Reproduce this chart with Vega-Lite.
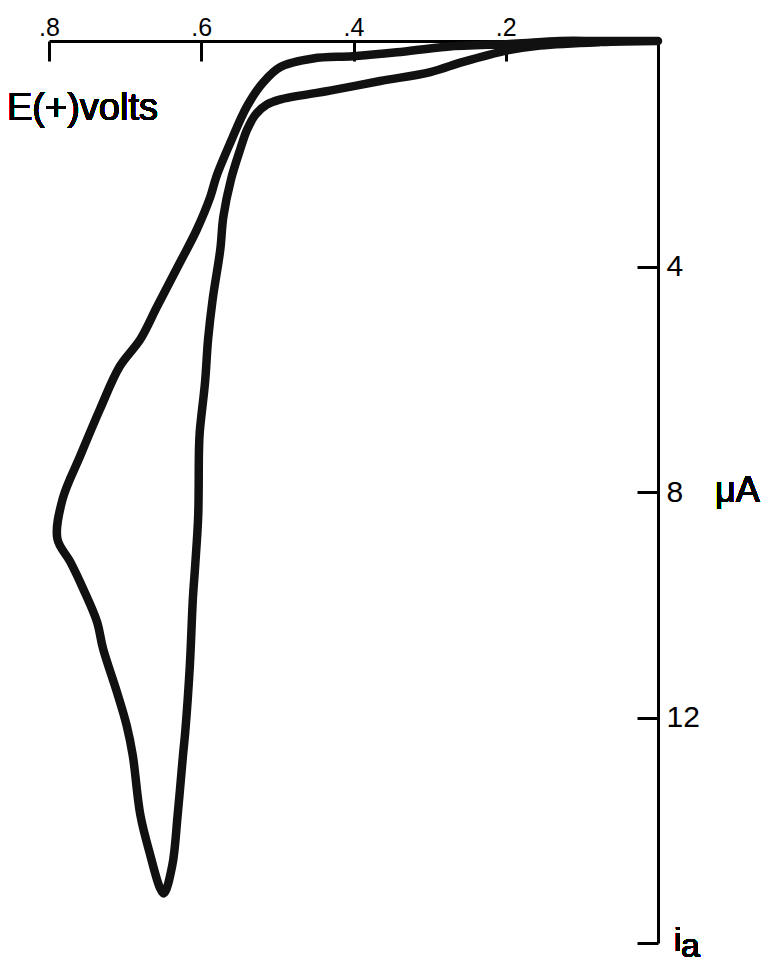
{
  "$schema": "https://vega.github.io/schema/vega-lite/v6.json",
  "width": 609,
  "height": 902,
  "autosize": {"type": "none"},
  "padding": {"left": 49, "top": 41, "right": 114, "bottom": 22},
  "background": "white",
  "config": {"view": {"stroke": null}, "font": "Liberation Sans"},
  "data": {
    "values": [
      {"k": 1, "E": 0.0, "I": 0.0},
      {"k": 2, "E": 0.076, "I": 0.0},
      {"k": 3, "E": 0.129, "I": 0.0},
      {"k": 4, "E": 0.19, "I": 0.05},
      {"k": 5, "E": 0.277, "I": 0.1},
      {"k": 6, "E": 0.343, "I": 0.2},
      {"k": 7, "E": 0.401, "I": 0.27},
      {"k": 8, "E": 0.453, "I": 0.31},
      {"k": 9, "E": 0.496, "I": 0.46},
      {"k": 10, "E": 0.519, "I": 0.74},
      {"k": 11, "E": 0.54, "I": 1.16},
      {"k": 12, "E": 0.562, "I": 1.81},
      {"k": 13, "E": 0.58, "I": 2.4},
      {"k": 14, "E": 0.588, "I": 2.76},
      {"k": 15, "E": 0.606, "I": 3.35},
      {"k": 16, "E": 0.628, "I": 3.93},
      {"k": 17, "E": 0.658, "I": 4.71},
      {"k": 18, "E": 0.68, "I": 5.29},
      {"k": 19, "E": 0.707, "I": 5.77},
      {"k": 20, "E": 0.733, "I": 6.53},
      {"k": 21, "E": 0.759, "I": 7.36},
      {"k": 22, "E": 0.782, "I": 8.12},
      {"k": 23, "E": 0.789, "I": 8.83},
      {"k": 24, "E": 0.772, "I": 9.24},
      {"k": 25, "E": 0.755, "I": 9.72},
      {"k": 26, "E": 0.737, "I": 10.3},
      {"k": 27, "E": 0.729, "I": 10.78},
      {"k": 28, "E": 0.711, "I": 11.54},
      {"k": 29, "E": 0.698, "I": 12.14},
      {"k": 30, "E": 0.69, "I": 12.67},
      {"k": 31, "E": 0.68, "I": 13.73},
      {"k": 32, "E": 0.667, "I": 14.44},
      {"k": 33, "E": 0.654, "I": 15.03},
      {"k": 34, "E": 0.649, "I": 15.12},
      {"k": 35, "E": 0.638, "I": 14.62},
      {"k": 36, "E": 0.631, "I": 13.73},
      {"k": 37, "E": 0.624, "I": 12.67},
      {"k": 38, "E": 0.621, "I": 12.25},
      {"k": 39, "E": 0.615, "I": 11.08},
      {"k": 40, "E": 0.611, "I": 9.89},
      {"k": 41, "E": 0.608, "I": 9.31},
      {"k": 42, "E": 0.604, "I": 8.42},
      {"k": 43, "E": 0.603, "I": 7.27},
      {"k": 44, "E": 0.602, "I": 6.94},
      {"k": 45, "E": 0.595, "I": 6.05},
      {"k": 46, "E": 0.591, "I": 5.29},
      {"k": 47, "E": 0.585, "I": 4.58},
      {"k": 48, "E": 0.575, "I": 3.7},
      {"k": 49, "E": 0.571, "I": 3.12},
      {"k": 50, "E": 0.561, "I": 2.46},
      {"k": 51, "E": 0.549, "I": 1.93},
      {"k": 52, "E": 0.54, "I": 1.58},
      {"k": 53, "E": 0.529, "I": 1.31},
      {"k": 54, "E": 0.514, "I": 1.13},
      {"k": 55, "E": 0.497, "I": 1.04},
      {"k": 56, "E": 0.431, "I": 0.88},
      {"k": 57, "E": 0.365, "I": 0.71},
      {"k": 58, "E": 0.299, "I": 0.55},
      {"k": 59, "E": 0.256, "I": 0.37},
      {"k": 60, "E": 0.199, "I": 0.17},
      {"k": 61, "E": 0.155, "I": 0.08},
      {"k": 62, "E": 0.076, "I": 0.02},
      {"k": 63, "E": 0.0, "I": 0.0}
    ]
  },
  "layer": [
    {
      "mark": {"type": "line", "color": "#111111", "strokeWidth": 8.5, "strokeJoin": "round", "strokeCap": "round", "interpolate": "catmull-rom"},
      "encoding": {
        "x": {
          "field": "E",
          "type": "quantitative",
          "scale": {"domain": [0, 0.8], "reverse": true, "nice": false, "zero": false},
          "axis": {
            "orient": "top",
            "values": [0.2, 0.4, 0.6, 0.8],
            "labelExpr": "replace(format(datum.value, '.1f'), '0.', '.')",
            "title": null,
            "grid": false,
            "domainColor": "black",
            "domainWidth": 3,
            "tickColor": "black",
            "tickWidth": 3,
            "tickSize": -20,
            "labelPadding": 21,
            "labelFontSize": 25,
            "labelFont": "Liberation Sans",
            "labelColor": "black",
            "labelFlush": false,
            "labelOverlap": false
          }
        },
        "y": {
          "field": "I",
          "type": "quantitative",
          "scale": {"domain": [0, 16], "reverse": true, "nice": false, "zero": false},
          "axis": {
            "orient": "right",
            "values": [4, 8, 12, 16],
            "format": "d",
            "labelExpr": "datum.value == 16 ? '' : datum.label",
            "title": null,
            "grid": false,
            "domainColor": "black",
            "domainWidth": 3,
            "tickColor": "black",
            "tickWidth": 3,
            "tickSize": -21,
            "labelPadding": 29,
            "labelFontSize": 30,
            "labelFont": "Liberation Sans",
            "labelColor": "black",
            "labelFlush": false,
            "labelOverlap": false
          }
        },
        "order": {"field": "k", "type": "quantitative"}
      }
    },
    {
      "mark": {"type": "text", "text": "E(+)volts", "align": "left", "baseline": "alphabetic", "fontSize": 38, "font": "Liberation Sans", "color": "black", "dx": -42},
      "encoding": {"x": {"datum": 0.8}, "y": {"datum": 1.4}}
    },
    {
      "mark": {"type": "text", "text": "μA", "align": "left", "baseline": "alphabetic", "fontSize": 36, "font": "Liberation Sans", "color": "black", "dx": 57, "dy": 10},
      "encoding": {"x": {"datum": 0}, "y": {"datum": 8}}
    },
    {
      "mark": {"type": "text", "text": "i", "align": "left", "baseline": "alphabetic", "fontSize": 34, "font": "Liberation Sans", "color": "black", "dx": 16, "dy": 8},
      "encoding": {"x": {"datum": 0}, "y": {"datum": 16}}
    },
    {
      "mark": {"type": "text", "text": "a", "align": "left", "baseline": "alphabetic", "fontSize": 34, "font": "Liberation Sans", "color": "black", "dx": 23, "dy": 14},
      "encoding": {"x": {"datum": 0}, "y": {"datum": 16}}
    }
  ]
}
